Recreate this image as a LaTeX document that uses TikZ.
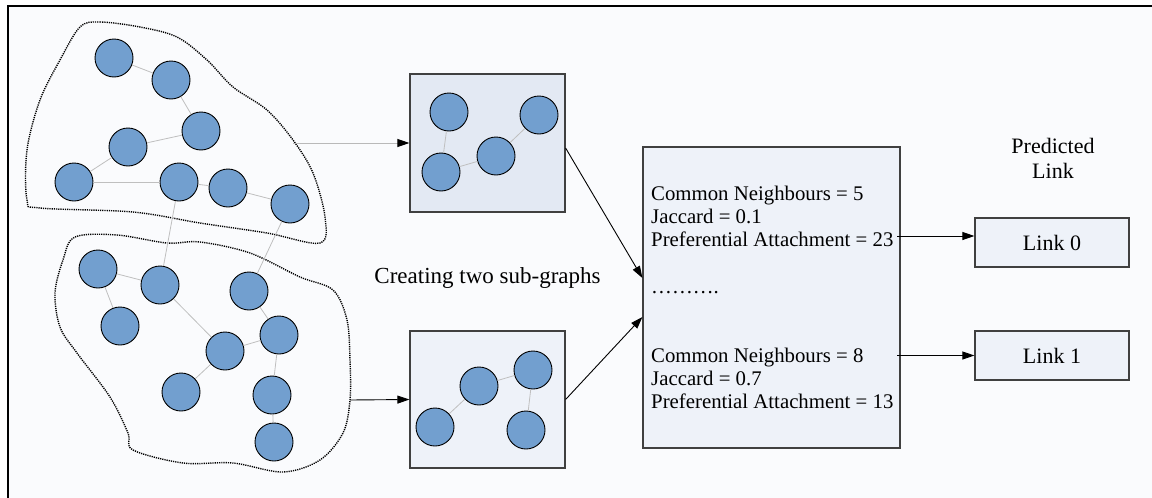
\documentclass[tikz,border=0pt]{standalone}
\usepackage{fontspec}
\setmainfont{Liberation Serif}
\usetikzlibrary{arrows.meta,calc}
\definecolor{bgc}{RGB}{250,251,253}
\definecolor{nodec}{RGB}{114,159,207}
\definecolor{boxa}{RGB}{227,233,243}
\definecolor{boxb}{RGB}{238,242,249}
\definecolor{edgec}{RGB}{64,64,64}
\tikzset{
  vtx/.style={circle,draw=black,line width=0.9pt,fill=nodec,minimum size=38pt,inner sep=0pt},
  gedge/.style={draw=gray!50,line width=0.8pt},
  blob/.style={draw=black,line width=1.4pt,dash pattern=on 1.2pt off 1pt},
  panel/.style={rectangle,draw=edgec,line width=1.2pt,inner sep=0pt},
  arr/.style={line width=0.9pt,-{Triangle[length=12pt,width=8pt,color=black]}},
  boxtext/.style={anchor=base west,inner sep=0pt,font=\fontsize{20.8}{23}\selectfont},
  lbl/.style={inner sep=0pt,font=\fontsize{22}{25}\selectfont}
}
\begin{document}
\begin{tikzpicture}[x=1pt,y=-1pt]
\useasboundingbox (0,0) rectangle (1152,498);
\fill[white] (0,0) rectangle (1152,498);
\fill[bgc] (8,6) rectangle (1152,498);
\draw[line width=2.2pt] (8,498) -- (8,6) -- (1152,6);

% blobs
\draw[blob] plot[smooth cycle,tension=0.55] coordinates {
 (80,27) (100,22) (140,27) (177,37) (207,60) (233,87) (267,110) (293,140)
 (313,173) (325,217) (320,243) (267,233) (200,223) (133,212) (40,208)
 (27,200) (27,150) (40,100) (60,60)};
\draw[blob] plot[smooth cycle,tension=0.55] coordinates {
 (75,237) (117,235) (167,243) (200,242) (250,253) (300,277) (333,290)
 (347,320) (350,360) (350,400) (343,433) (320,460) (283,472) (233,463)
 (183,463) (133,450) (128,433) (110,397) (77,353) (60,327) (55,293) (63,260)};

% upper graph
\node[vtx] (a) at (114,58) {};
\node[vtx] (b) at (171,80) {};
\node[vtx] (c) at (201,131) {};
\node[vtx] (d) at (128,147) {};
\node[vtx] (e) at (74,182) {};
\node[vtx] (f) at (179,182) {};
\node[vtx] (g) at (228,188) {};
\node[vtx] (h) at (290,204) {};
% lower graph
\node[vtx] (i) at (98,269) {};
\node[vtx] (j) at (160,285) {};
\node[vtx] (k) at (249,291) {};
\node[vtx] (l) at (120,326) {};
\node[vtx] (m) at (279,335) {};
\node[vtx] (n) at (225,351) {};
\node[vtx] (o) at (181,392) {};
\node[vtx] (p) at (272,395) {};
\node[vtx] (q) at (274,442) {};
\foreach \u/\v in {a/b,b/c,c/d,d/e,e/f,f/g,g/h,f/j,h/k,i/j,i/l,j/n,k/m,n/m,n/o,m/p,p/q}
  \draw[gedge] (\u) -- (\v);

% sub-graph boxes
\node[panel,fill=boxa,minimum width=155pt,minimum height=138pt] (box1) at (487.5,143) {};
\node[vtx] (s1) at (449,112) {};
\node[vtx] (s2) at (539,115) {};
\node[vtx] (s3) at (496,156) {};
\node[vtx] (s4) at (441,172) {};
\draw[gedge] (s1) -- (s4);
\draw[gedge] (s4) -- (s3);
\draw[gedge] (s3) -- (s2);

\node[panel,fill=boxb,minimum width=155pt,minimum height=137pt] (box2) at (487.5,399.5) {};
\node[vtx] (r1) at (479,386) {};
\node[vtx] (r2) at (533,370) {};
\node[vtx] (r3) at (435,427) {};
\node[vtx] (r4) at (526,430) {};
\draw[gedge] (r3) -- (r1);
\draw[gedge] (r1) -- (r2);
\draw[gedge] (r2) -- (r4);

% big feature box
\node[panel,fill=boxb,minimum width=257pt,minimum height=301pt] (big) at (771.5,297.5) {};
\node[boxtext] (t1) at (651,200.5) {Common Neighbours = 5};
\node[boxtext] (t2) at (651,223.5) {Jaccard = 0.1};
\node[boxtext] (t3) at (651,246.5) {Preferential Attachment = 23};
\node[boxtext] (t4) at (651,293) {……….};
\node[boxtext] (t5) at (651,362.5) {Common Neighbours = 8};
\node[boxtext] (t6) at (651,385.5) {Jaccard = 0.7};
\node[boxtext] (t7) at (651,408.5) {Preferential Attachment = 13};

% link boxes
\node[panel,fill=boxb,minimum width=154pt,minimum height=49pt,font=\fontsize{22}{25}\selectfont] (link0) at (1052,242.5) {Link 0};
\node[panel,fill=boxb,minimum width=154pt,minimum height=49pt,font=\fontsize{22}{25}\selectfont] (link1) at (1052,355.5) {Link 1};
\node[lbl,align=center] (pred) at (1053,158) {Predicted\\Link};
\node[lbl,font=\fontsize{23}{26}\selectfont] (create) at (487.5,278) {Creating two sub-graphs};

% connectors
\coordinate (up0) at (293,143);
\coordinate (lo0) at (350,400);
\draw[arr,draw=gray!55] (up0) -- (box1.west);
\draw[arr] (lo0) -- (box2.west);
\draw[arr] ([yshift=-5pt]box1.east) -- ([yshift=19.5pt]big.west);
\draw[arr] (box2.east) -- ([yshift=-19.5pt]big.west);
\coordinate (o0) at (897,236);
\draw[arr] (o0) -- ([yshift=6.5pt]link0.west);
\draw[arr] (link1.west -| o0) -- (link1.west);
\end{tikzpicture}
\end{document}
